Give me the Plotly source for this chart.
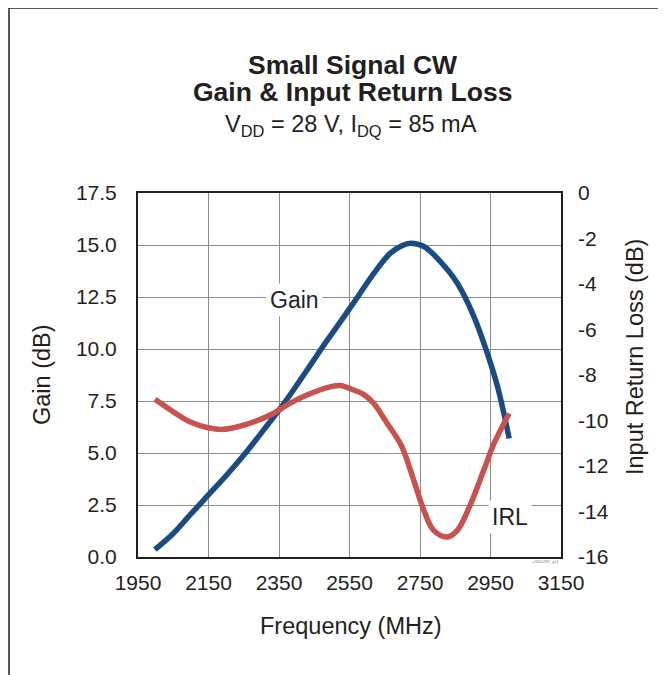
import plotly.graph_objects as go

# Gain curve (dB) vs frequency (MHz)
gain_freq = [1998, 2050, 2097, 2149, 2201, 2258, 2306, 2350, 2391, 2440, 2486, 2530, 2571, 2619, 2666, 2700, 2723, 2761, 2808, 2856, 2903, 2941, 2970, 3003]
gain_db = [0.36, 1.13, 2.01, 2.97, 3.93, 5.06, 6.10, 7.06, 8.03, 9.25, 10.40, 11.45, 12.45, 13.64, 14.61, 14.98, 15.09, 14.93, 14.20, 13.16, 11.56, 9.79, 8.19, 5.70]

# Input return loss (dB) vs frequency (MHz)
irl_freq = [1998, 2050, 2097, 2149, 2192, 2239, 2287, 2334, 2372, 2429, 2495, 2524, 2560, 2590, 2619, 2657, 2697, 2732, 2761, 2789, 2827, 2856, 2894, 2931, 2960, 3003]
irl_db = [-9.07, -9.62, -10.06, -10.32, -10.39, -10.25, -10.01, -9.69, -9.32, -8.88, -8.52, -8.46, -8.65, -8.85, -9.25, -10.13, -11.10, -12.62, -13.95, -14.83, -15.12, -14.83, -13.65, -12.18, -11.01, -9.69]

x_ticks = [1950, 2150, 2350, 2550, 2750, 2950, 3150]
gain_ticks = [0, 2.5, 5, 7.5, 10, 12.5, 15, 17.5]
irl_ticks = [0, -2, -4, -6, -8, -10, -12, -14, -16]

FONT = "Liberation Sans, Arial, sans-serif"
INK = "#231f20"
BLUE = "#1c4a82"
RED = "#c8524e"

fig = go.Figure()
fig.add_trace(go.Scatter(x=gain_freq, y=gain_db, mode="lines",
                         line=dict(color=BLUE, width=5.5, shape="spline", smoothing=1.0), showlegend=False))
fig.add_trace(go.Scatter(x=irl_freq, y=irl_db, mode="lines", yaxis="y2",
                         line=dict(color=RED, width=5.5, shape="spline", smoothing=1.0), showlegend=False))

OFF = 8  # page body margin
W, H = 658, 667
ml, mt = 138 - OFF, 193 - OFF
mr = W - (561 - OFF)
mb = H - (557 - OFF)
pw, ph = W - ml - mr, H - mt - mb

def px(xa):
    return (xa - OFF - ml) / pw

def py(ya):
    return (H - mb - (ya - OFF)) / ph

fig.update_layout(
    width=W, height=H,
    margin=dict(l=ml, r=mr, t=mt, b=mb),
    paper_bgcolor="white", plot_bgcolor="white",
    font=dict(family=FONT, color=INK, size=21),
    xaxis=dict(range=[1950, 3150], tickvals=x_ticks, ticktext=[str(v) for v in x_ticks],
               showgrid=True, gridcolor="#8c8c8c", gridwidth=1, zeroline=False,
               showline=True, linecolor=INK, linewidth=2, mirror=True, ticks="",
               ticklabelstandoff=6, tickfont=dict(size=21)),
    yaxis=dict(range=[0, 17.5], tickvals=gain_ticks, ticktext=[f"{v:.1f}" for v in gain_ticks],
               showgrid=True, gridcolor="#8c8c8c", gridwidth=1, zeroline=False,
               showline=True, linecolor=INK, linewidth=2, mirror=True, ticks="",
               ticklabelstandoff=15, tickfont=dict(size=21)),
    yaxis2=dict(range=[-16, 0], tickvals=irl_ticks, ticktext=[str(v) for v in irl_ticks],
                overlaying="y", side="right", showgrid=False, zeroline=False, ticks="",
                ticklabelstandoff=16, tickfont=dict(size=21)),
)

def ann(text, xa, ya, size, **kw):
    fig.add_annotation(text=text, x=px(xa), y=py(ya), xref="paper", yref="paper", showarrow=False,
                       font=dict(size=size, color=kw.pop("color", INK)), xanchor="center", yanchor="middle", **kw)

# titles
ann("<b>Small Signal CW</b>", 352, 65, 26.5)
ann("<b>Gain &amp; Input Return Loss</b>", 352, 91.5, 26.5)
ann("V<sub>DD</sub> = 28 V, I<sub>DQ</sub> = 85 mA", 351, 125, 23.5)

# axis titles
ann("Frequency (MHz)", 351, 626, 23.5)
ann("Gain (dB)", 42, 375, 23.5, textangle=-90)
ann("Input Return Loss (dB)", 635, 357, 23.5, textangle=-90)

# curve labels
fig.add_annotation(text="Gain", x=2395, y=12.34, xref="x", yref="y", showarrow=False,
                   font=dict(size=23), bgcolor="white", xanchor="center", yanchor="middle", borderpad=3)
fig.add_annotation(text="IRL", x=3004, y=1.93, xref="x", yref="y", showarrow=False,
                   font=dict(size=23), bgcolor="white", xanchor="center", yanchor="middle", borderpad=3)

ann("c280028V_g11", 545, 561, 4, color="#888888")

# outer frame (left, top, right)
for x0, y0, x1, y1 in [(9, 8, 9, 700), (9, 8, 662, 8), (662, 8, 662, 700)]:
    fig.add_shape(type="line", xref="paper", yref="paper", x0=px(x0), y0=py(y0), x1=px(x1), y1=py(y1),
                  line=dict(color=INK, width=1.5))

fig.write_html("out.html")
